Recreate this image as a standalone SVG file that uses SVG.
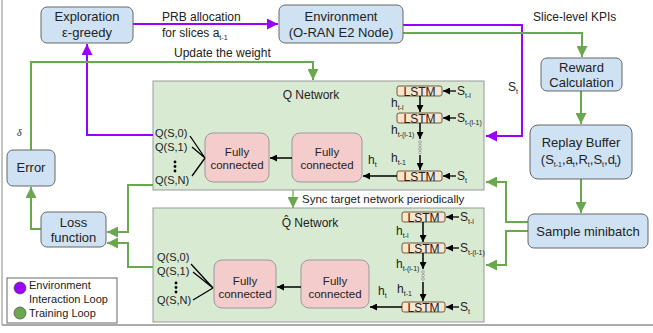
<svg xmlns="http://www.w3.org/2000/svg" width="653" height="333" viewBox="0 0 653 333">
  <style>
    text { font-family: "Liberation Sans", Arial, sans-serif; fill: #222; }
    .t13 { font-size: 13px; }
    .t12 { font-size: 12px; }
    .t11 { font-size: 11px; }
    .fct { font-size: 11.5px; }
    .lt { font-size: 12px; }
    .mid { text-anchor: middle; }
    .blue { fill: #cfe2f3; stroke: #666; stroke-width: 1; }
    .net { fill: #d9ead3; stroke: #999; stroke-width: 1; }
    .fc { fill: #f4cccc; stroke: #999; stroke-width: 1; }
    .lstm { fill: #fce5cd; stroke: #6b5a3e; stroke-width: 1; }
    .pur { fill: none; stroke: #9900ff; stroke-width: 2; }
    .grn { fill: none; stroke: #6aa84f; stroke-width: 2; }
    .blk { fill: none; stroke: #000; stroke-width: 1.5; }
    .thin { fill: none; stroke: #000; stroke-width: 1.3; }
    .dot { fill: #fff; stroke: #888; stroke-width: 0.8; }
    .sub { font-size: 7px; }
  </style>
  <defs>
    <marker id="ap" viewBox="0 0 10 10" refX="10" refY="5" markerWidth="11" markerHeight="11" markerUnits="userSpaceOnUse" orient="auto">
      <path d="M0,0 L10,5 L0,10 z" fill="#9900ff"/>
    </marker>
    <marker id="ag" viewBox="0 0 10 10" refX="10" refY="5" markerWidth="11" markerHeight="11" markerUnits="userSpaceOnUse" orient="auto">
      <path d="M0,0 L10,5 L0,10 z" fill="#6aa84f"/>
    </marker>
    <marker id="ab" viewBox="0 0 10 10" refX="10" refY="5" markerWidth="7" markerHeight="7" markerUnits="userSpaceOnUse" orient="auto">
      <path d="M0,0 L10,5 L0,10 z" fill="#000"/>
    </marker>
  </defs>

  <!-- page frame -->
  <line x1="2" y1="0" x2="2" y2="325" stroke="#888" stroke-width="1"/>
  <line x1="2" y1="325" x2="653" y2="325" stroke="#aaa" stroke-width="2"/>

  <!-- network panels -->
  <g id="q-network">
    <rect class="net" x="153" y="81" width="331" height="109"/>
    <text class="t12 mid" x="311" y="99">Q Network</text>
  </g>
  <g id="q-target-network">
    <rect class="net" x="153" y="208" width="331" height="114"/>
    <text class="t12 mid" x="310" y="227">Q̂ Network</text>
  </g>

  <!-- connectors -->
  <g id="connectors">
    <path class="pur" d="M133,24 H278" marker-end="url(#ap)"/>
    <path class="pur" d="M153,135 H87 V44" marker-end="url(#ap)"/>
    <path class="pur" d="M403,25 H522 V136 H486" marker-end="url(#ap)"/>
    <path class="grn" d="M403,33 H582 V57" marker-end="url(#ag)"/>
    <path class="grn" d="M581,91 V124" marker-end="url(#ag)"/>
    <path class="grn" d="M581,179 V213" marker-end="url(#ag)"/>
    <path class="grn" d="M528,222 H506 V182 H486" marker-end="url(#ag)"/>
    <path class="grn" d="M528,231 H506 V265 H486" marker-end="url(#ag)"/>
    <path class="grn" d="M31,150 V62 H313 V80" marker-end="url(#ag)"/>
    <path class="grn" d="M41,229 H31 V187" marker-end="url(#ag)"/>
    <path class="grn" d="M153,185 H128 V232 H107" marker-end="url(#ag)"/>
    <path class="grn" d="M153,267 H128 V243 H107" marker-end="url(#ag)"/>
    <path d="M293,190 V208" fill="none" stroke="#6aa84f" stroke-width="1.2" marker-end="url(#ag)"/>
  </g>

  <!-- connector labels -->
  <g id="labels">
    <text class="t12" x="162" y="21">PRB allocation</text>
    <text class="t12" x="162" y="37">for slices a<tspan class="sub" dy="3">t-1</tspan></text>
    <text class="t12" x="174" y="57">Update the weight</text>
    <text class="t12" x="533" y="21">Slice-level KPIs</text>
    <text class="t12" x="508" y="91">S<tspan class="sub" dy="3">t</tspan></text>
    <text x="17" y="136" style="font-family:'Liberation Serif',serif;font-style:italic;font-size:10px">δ</text>
    <text class="fct" x="302" y="203">Sync target network periodically</text>
  </g>

  <g id="exploration">
    <rect class="blue" x="41" y="7" width="92" height="36" rx="6"/>
    <text class="t13 mid" x="87" y="21">Exploration</text>
    <text class="t13 mid" x="87" y="37">ε-greedy</text>
  </g>
  <g id="environment">
    <rect class="blue" x="279" y="5" width="124" height="38" rx="6"/>
    <text class="t13 mid" x="341" y="21">Environment</text>
    <text class="t13 mid" x="341" y="37">(O-RAN E2 Node)</text>
  </g>
  <g id="reward">
    <rect class="blue" x="541" y="58" width="81" height="33" rx="6"/>
    <text class="t13 mid" x="581.5" y="72">Reward</text>
    <text class="t13 mid" x="581.5" y="87">Calculation</text>
  </g>
  <g id="replay-buffer">
    <rect class="blue" x="530" y="125" width="102" height="54" rx="8"/>
    <text class="t13 mid" x="581" y="147">Replay Buffer</text>
    <text class="t13 mid" x="581" y="164">(S<tspan class="sub" dy="3">t-1</tspan><tspan dy="-3">,a</tspan><tspan class="sub" dy="3">t</tspan><tspan dy="-3">,R</tspan><tspan class="sub" dy="3">t</tspan><tspan dy="-3">,S</tspan><tspan class="sub" dy="3">t</tspan><tspan dy="-3">,d</tspan><tspan class="sub" dy="3">t</tspan><tspan dy="-3">)</tspan></text>
  </g>
  <g id="sample-minibatch">
    <rect class="blue" x="528" y="214" width="120" height="34" rx="6"/>
    <text class="t13 mid" x="588" y="236">Sample minibatch</text>
  </g>
  <g id="error">
    <rect class="blue" x="7" y="150" width="48" height="36" rx="6"/>
    <text class="t13 mid" x="31" y="172">Error</text>
  </g>
  <g id="loss">
    <rect class="blue" x="41" y="212" width="65" height="35" rx="6"/>
    <text class="t13 mid" x="73.5" y="227">Loss</text>
    <text class="t13 mid" x="73.5" y="242">function</text>
  </g>

  <!-- Q network internals -->
  <g id="q-lstm">
    <rect class="lstm" x="397" y="86" width="45" height="10" rx="2"/>
    <rect class="lstm" x="397" y="113" width="45" height="10" rx="2"/>
    <rect class="lstm" x="397" y="171" width="45" height="10" rx="2"/>
    <text class="lt mid" x="419.5" y="95.5">LSTM</text>
    <text class="lt mid" x="419.5" y="122.5">LSTM</text>
    <text class="lt mid" x="419.5" y="180.5">LSTM</text>
    <path class="thin" d="M456,91 H443" marker-end="url(#ab)"/>
    <path class="thin" d="M456,118 H443" marker-end="url(#ab)"/>
    <path class="thin" d="M456,176 H443" marker-end="url(#ab)"/>
    <text class="t12" x="457" y="95">S<tspan class="sub" dy="3">t-l</tspan></text>
    <text class="t12" x="457" y="122">S<tspan class="sub" dy="3">t-(l-1)</tspan></text>
    <text class="t12" x="457" y="180">S<tspan class="sub" dy="3">t</tspan></text>
    <path class="blk" d="M420,96 V112" marker-end="url(#ab)"/>
    <path class="blk" d="M420,123 V139" marker-end="url(#ab)"/>
    <circle class="dot" cx="420" cy="142" r="1.3"/>
    <circle class="dot" cx="420" cy="145.5" r="1.3"/>
    <circle class="dot" cx="420" cy="149" r="1.3"/>
    <circle class="dot" cx="420" cy="152.5" r="1.3"/>
    <path class="blk" d="M420,155 V170" marker-end="url(#ab)"/>
    <text class="t12" x="391" y="107">h<tspan class="sub" dy="3">t-l</tspan></text>
    <text class="t12" x="391" y="134">h<tspan class="sub" dy="3">t-(l-1)</tspan></text>
    <text class="t12" x="391" y="162">h<tspan class="sub" dy="3">t-1</tspan></text>
    <text class="t12" x="368" y="164">h<tspan class="sub" dy="3">t</tspan></text>
    <path class="blk" d="M397,176 H363" marker-end="url(#ab)"/>
  </g>
  <g id="q-fc2">
    <rect class="fc" x="292" y="133" width="70" height="49" rx="8"/>
    <text class="fct mid" x="327" y="156">Fully</text>
    <text class="fct mid" x="327" y="169">connected</text>
  </g>
  <g id="q-fc1">
    <rect class="fc" x="205" y="133" width="64" height="49" rx="8"/>
    <text class="fct mid" x="237" y="156">Fully</text>
    <text class="fct mid" x="237" y="169">connected</text>
  </g>
  <g id="q-outputs">
    <path class="blk" d="M292,158 H270" marker-end="url(#ab)"/>
    <text class="t11" x="155" y="137">Q(S,0)</text>
    <text class="t11" x="155" y="151">Q(S,1)</text>
    <text class="t11" x="155" y="184">Q(S,N)</text>
    <circle cx="175" cy="162" r="1.4" fill="#000"/>
    <circle cx="175" cy="166.5" r="1.4" fill="#000"/>
    <circle cx="175" cy="171" r="1.4" fill="#000"/>
    <path class="thin" d="M190,136 L205,158 M192,147 L205,158 M192,176 L205,158"/>
  </g>

  <!-- target Q network internals -->
  <g id="qhat-lstm">
    <rect class="lstm" x="402" y="212" width="43" height="10" rx="2"/>
    <rect class="lstm" x="402" y="243" width="43" height="10" rx="2"/>
    <rect class="lstm" x="402" y="302" width="43" height="10" rx="2"/>
    <text class="lt mid" x="423.5" y="221.5">LSTM</text>
    <text class="lt mid" x="423.5" y="252.5">LSTM</text>
    <text class="lt mid" x="423.5" y="311.5">LSTM</text>
    <path class="thin" d="M459,217 H446" marker-end="url(#ab)"/>
    <path class="thin" d="M459,248 H446" marker-end="url(#ab)"/>
    <path class="thin" d="M459,307 H446" marker-end="url(#ab)"/>
    <text class="t12" x="460" y="221">S<tspan class="sub" dy="3">t-l</tspan></text>
    <text class="t12" x="460" y="252">S<tspan class="sub" dy="3">t-(l-1)</tspan></text>
    <text class="t12" x="460" y="311">S<tspan class="sub" dy="3">t</tspan></text>
    <path class="blk" d="M423,222 V242" marker-end="url(#ab)"/>
    <path class="blk" d="M423,253 V269" marker-end="url(#ab)"/>
    <circle class="dot" cx="423" cy="272" r="1.3"/>
    <circle class="dot" cx="423" cy="275.5" r="1.3"/>
    <circle class="dot" cx="423" cy="279" r="1.3"/>
    <path class="blk" d="M423,282 V301" marker-end="url(#ab)"/>
    <text class="t12" x="396" y="235">h<tspan class="sub" dy="3">t-l</tspan></text>
    <text class="t12" x="396" y="268">h<tspan class="sub" dy="3">t-(l-1)</tspan></text>
    <text class="t12" x="397" y="293">h<tspan class="sub" dy="3">t-1</tspan></text>
    <text class="t12" x="378" y="295">h<tspan class="sub" dy="3">t</tspan></text>
    <path class="blk" d="M402,307 H370" marker-end="url(#ab)"/>
  </g>
  <g id="qhat-fc2">
    <rect class="fc" x="301" y="260" width="68" height="48" rx="8"/>
    <text class="fct mid" x="335" y="285">Fully</text>
    <text class="fct mid" x="335" y="298">connected</text>
  </g>
  <g id="qhat-fc1">
    <rect class="fc" x="214" y="260" width="62" height="48" rx="8"/>
    <text class="fct mid" x="245" y="285">Fully</text>
    <text class="fct mid" x="245" y="298">connected</text>
  </g>
  <g id="qhat-outputs">
    <path class="blk" d="M301,287 H277" marker-end="url(#ab)"/>
    <text class="t11" x="157" y="261">Q(S,0)</text>
    <text class="t11" x="157" y="275">Q(S,1)</text>
    <text class="t11" x="157" y="304">Q(S,N)</text>
    <circle cx="176" cy="283" r="1.4" fill="#000"/>
    <circle cx="176" cy="287.5" r="1.4" fill="#000"/>
    <circle cx="176" cy="292" r="1.4" fill="#000"/>
    <path class="thin" d="M191,264 L213,288 M193,272 L213,288 M193,300 L213,288"/>
  </g>

  <!-- legend -->
  <g id="legend">
    <rect x="7" y="278" width="110" height="45" fill="#fff" stroke="#666" stroke-width="1"/>
    <circle cx="20" cy="288" r="6" fill="#9900ff" stroke="#555" stroke-width="0.8"/>
    <circle cx="20" cy="313" r="6" fill="#6aa84f" stroke="#555" stroke-width="0.8"/>
    <text class="t11" x="29" y="289">Environment</text>
    <text class="t11" x="29" y="303">Interaction Loop</text>
    <text class="t11" x="29" y="317">Training  Loop</text>
  </g>
</svg>
